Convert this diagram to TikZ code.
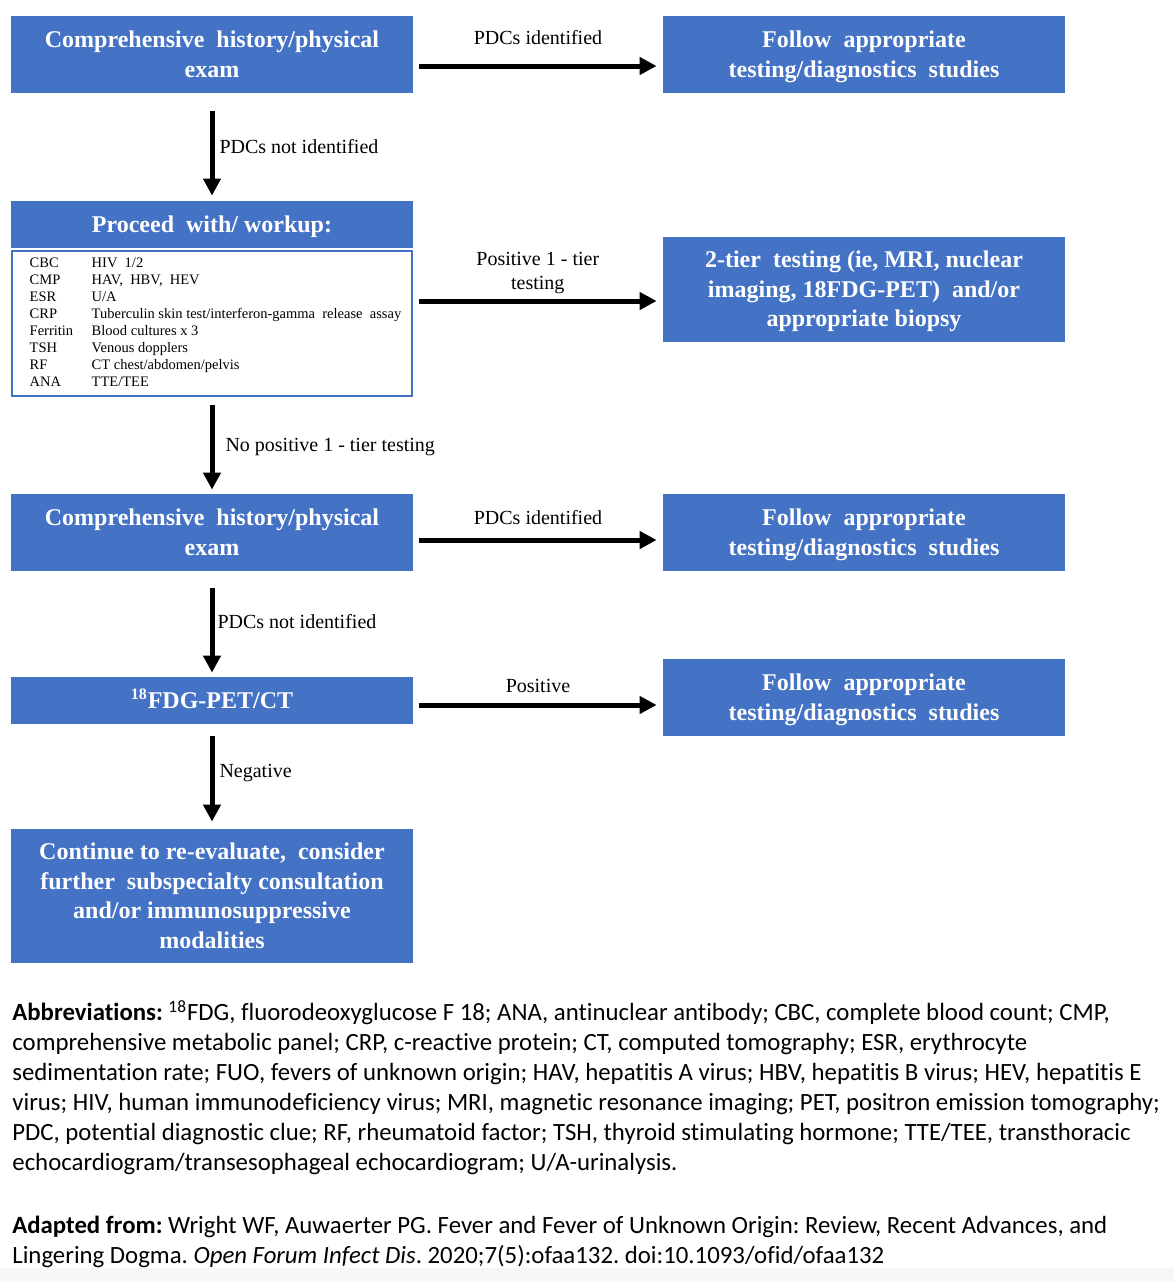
\documentclass[tikz,border=0pt]{standalone}
\usepackage{fontspec}
\setmainfont{Liberation Serif}
\newfontfamily\calibri[Ligatures=NoCommon]{Carlito}
\usetikzlibrary{arrows.meta,calc}
\definecolor{boxblue}{HTML}{4472C4}
\newcommand{\topstrut}{\rule{0pt}{11pt}}
\newcommand{\botstrut}{\rule[-3.25pt]{0pt}{3.25pt}}
\tikzset{
  bluebox/.style={rectangle,fill=boxblue,text=white,align=center,inner sep=1pt,
    font=\bfseries\fontsize{12}{14.75}\selectfont,minimum width=201pt,minimum height=38.5pt},
  flow/.style={-{Triangle[length=8.5pt,width=8.5pt]},line width=2.5pt},
  lab/.style={font=\fontsize{10}{12}\selectfont,align=center,inner sep=1pt},
}
\begin{document}
\frenchspacing
\begin{tikzpicture}[x=0.5pt,y=-0.5pt]
     \useasboundingbox (0,0) rectangle (1174,1282);
     \fill [black!3] (0,1268) rectangle (1174,1282);

     %left column
     \node (b1) at (212,54.5) [bluebox]{\topstrut Comprehensive\ \ history/physical\\exam\botstrut};
     \node (head) at (212,224.5) [bluebox,minimum height=23.5pt]{\topstrut Proceed\ \ with/\ workup:\botstrut};
     \node (tab) at (212,323.5) [draw=boxblue,line width=1pt,minimum width=200pt,minimum height=72.5pt,inner sep=0pt]
     {\fontsize{7.25}{8.55}\selectfont
      \begin{tabular}{@{\hspace{3.5pt}}p{31pt}@{}l@{}}
      CBC & HIV\ \ 1/2\\
      CMP & HAV,\ \ HBV,\ \ HEV\\
      ESR & U/A\\
      CRP & Tuberculin skin test/interferon-gamma\ \ release\ \ assay\\
      Ferritin & Blood cultures x 3\\
      TSH & Venous dopplers\\
      RF & CT chest/abdomen/pelvis\\
      ANA & TTE/TEE
      \end{tabular}};
     \node (b3) at (212,532.5) [bluebox]{\topstrut Comprehensive\ \ history/physical\\exam\botstrut};
     \node (b4) at (212,700.5) [bluebox,minimum height=23.5pt]{\topstrut\textsuperscript{18}FDG-PET/CT\botstrut};
     \node (b5) at (212,896) [bluebox,minimum height=67pt]{\topstrut Continue to re-evaluate,\ \ consider\\further\ \ subspecialty consultation\\and/or immunosuppressive\\modalities\botstrut};

     %right column
     \node (r1) at (864,54.5) [bluebox]{\topstrut Follow\ \ appropriate\\testing/diagnostics\ \ studies\botstrut};
     \node (r2) at (864,289.5) [bluebox,minimum height=52.5pt]{\topstrut 2-tier\ \ testing (ie, MRI, nuclear\\imaging, 18FDG-PET)\ \ and/or\\appropriate biopsy\botstrut};
     \node (r3) at (864,532.5) [bluebox]{\topstrut Follow\ \ appropriate\\testing/diagnostics\ \ studies\botstrut};
     \node (r4) at (864,697.5) [bluebox]{\topstrut Follow\ \ appropriate\\testing/diagnostics\ \ studies\botstrut};

     %arrows right
     \draw [flow,shorten <=3pt,shorten >=3pt] ([yshift=-5.75pt]b1.east) -- ([yshift=-5.75pt]b1.east -| r1.west)
       node [lab,midway,yshift=14pt]{PDCs identified};
     \draw [flow,shorten <=3pt,shorten >=3pt] ([yshift=11.25pt]tab.east) -- ([yshift=11.25pt]tab.east -| r2.west)
       node [lab,midway,yshift=13.75pt]{Positive 1 - tier\\testing};
     \draw [flow,shorten <=3pt,shorten >=3pt] ([yshift=-3.75pt]b3.east) -- ([yshift=-3.75pt]b3.east -| r3.west)
       node [lab,midway,yshift=11pt]{PDCs identified};
     \draw [flow,shorten <=3pt,shorten >=3pt] ([yshift=-2.25pt]b4.east) -- ([yshift=-2.25pt]b4.east -| r4.west)
       node [lab,midway,yshift=9.5pt]{Positive};

     %arrows down
     \draw [flow,shorten <=9pt,shorten >=2.5pt] (b1.south) -- (head.north)
       node [lab,pos=0.5,anchor=west,xshift=1.5pt]{PDCs not identified};
     \draw [flow,shorten <=4pt,shorten >=2pt] (tab.south) -- (b3.north)
       node [lab,pos=0.515,anchor=west,xshift=4.5pt]{No positive 1 - tier testing};
     \draw [flow,shorten <=8.5pt,shorten >=2pt] (b3.south) -- (b4.north)
       node [lab,pos=0.48,anchor=west,xshift=0.5pt]{PDCs not identified};
     \draw [flow,shorten <=6pt,shorten >=3.5pt] (b4.south) -- (b5.north)
       node [lab,pos=0.47,anchor=west,xshift=1.5pt]{Negative};

     %footer
     {\calibri\fontsize{12.4}{15}\selectfont
     \node (abbr) at (12,1000) [anchor=north west,align=left,inner sep=0pt]{%
       \textbf{Abbreviations:} \textsuperscript{18}FDG, fluorodeoxyglucose F 18; ANA, antinuclear antibody; CBC, complete blood count; CMP,\\
       comprehensive metabolic panel; CRP, c-reactive protein; CT, computed tomography; ESR, erythrocyte\\
       sedimentation rate; FUO, fevers of unknown origin; HAV, hepatitis A virus; HBV, hepatitis B virus; HEV, hepatitis E\\
       virus; HIV, human immunodeficiency virus; MRI, magnetic resonance imaging; PET, positron emission tomography;\\
       PDC, potential diagnostic clue; RF, rheumatoid factor; TSH, thyroid stimulating hormone; TTE/TEE, transthoracic\\
       echocardiogram/transesophageal echocardiogram; U/A-urinalysis.};
     \node (src) at (12,1216) [anchor=north west,align=left,inner sep=0pt]{%
       \textbf{Adapted from:} Wright WF, Auwaerter PG. Fever and Fever of Unknown Origin: Review, Recent Advances, and\\
       Lingering Dogma. \textit{Open Forum Infect Dis}. 2020;7(5):ofaa132. doi:10.1093/ofid/ofaa132};
     }
\end{tikzpicture}
\end{document}
